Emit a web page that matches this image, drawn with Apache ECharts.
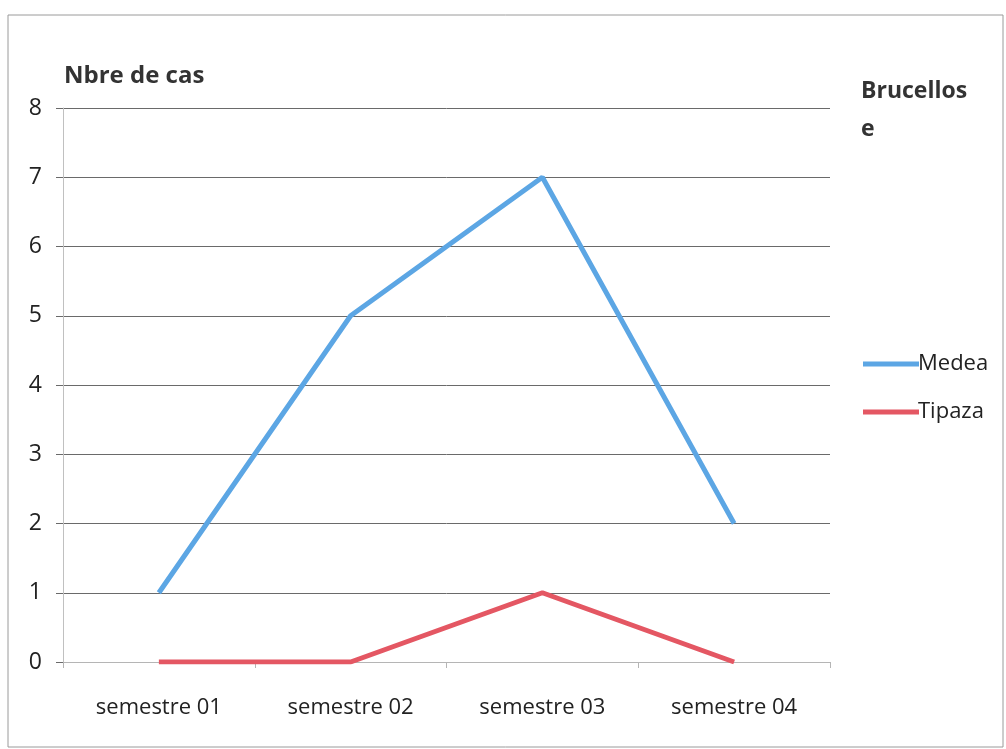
<!DOCTYPE html>
<html>
<head>
<meta charset="utf-8">
<script src="https://cdn.jsdelivr.net/npm/echarts@6/dist/echarts.min.js"></script>
<style>
  html, body { margin: 0; padding: 0; background: #fff; }
  #chart { width: 1006px; height: 749px; }
</style>
</head>
<body>
<div id="chart"></div>
<script>
// Cases of brucellosis per semester, by wilaya
const categories = ['semestre 01', 'semestre 02', 'semestre 03', 'semestre 04'];
const medea = [1, 5, 7, 2];
const tipaza = [0, 0, 1, 0];
const yTicks = [0, 1, 2, 3, 4, 5, 6, 7, 8];

const FONT = '"Open Sans", "Noto Sans", sans-serif';
const chart = echarts.init(document.getElementById('chart'));

chart.setOption({
  animation: false,
  backgroundColor: '#ffffff',
  graphic: [
    {
      type: 'rect',
      shape: { x: 8, y: 15, width: 995, height: 732 },
      style: { fill: 'none', stroke: '#9a9a9a', lineWidth: 1 }
    },
    {
      type: 'text',
      left: 64, top: 64,
      style: { text: 'Nbre de cas', font: 'bold 24px ' + FONT, fill: '#333' }
    },
    {
      type: 'text',
      left: 861, top: 72,
      style: { text: 'Brucellos\ne', font: 'bold 23px ' + FONT, fill: '#333', lineHeight: 38 }
    }
  ],
  grid: { left: 63, right: 176, top: 108, bottom: 87, containLabel: false },
  legend: {
    orient: 'vertical',
    left: 858, top: 348,
    itemWidth: 56, itemHeight: 5, itemGap: 26,
    icon: 'rect',
    textStyle: { fontFamily: FONT, fontSize: 22, color: '#222', padding: [0, 0, 0, -6] },
    data: ['Medea', 'Tipaza']
  },
  xAxis: {
    type: 'category',
    data: categories,
    boundaryGap: true,
    axisLine: { lineStyle: { color: '#b5b5b5', width: 1 } },
    axisTick: { show: true, length: 6, lineStyle: { color: '#b5b5b5' } },
    axisLabel: { fontFamily: FONT, fontSize: 22, color: '#222', margin: 35 }
  },
  yAxis: {
    type: 'value',
    min: 0, max: 8, interval: 1,
    axisLine: { show: true, lineStyle: { color: '#c0c0c0', width: 1 } },
    axisTick: { show: true, length: 7, lineStyle: { color: '#6a6a6a' } },
    axisLabel: {
      fontFamily: FONT, fontSize: 23, color: '#222', margin: 21,
      formatter: v => (yTicks.includes(v) ? String(v) : '')
    },
    splitLine: { show: true, lineStyle: { color: '#6a6a6a', width: 1 } }
  },
  series: [
    {
      name: 'Medea', type: 'line', data: medea,
      symbol: 'none',
      lineStyle: { color: '#5ca6e4', width: 5 },
      itemStyle: { color: '#5ca6e4' }
    },
    {
      name: 'Tipaza', type: 'line', data: tipaza,
      symbol: 'none',
      lineStyle: { color: '#e45763', width: 5 },
      itemStyle: { color: '#e45763' }
    }
  ]
});
</script>
</body>
</html>
